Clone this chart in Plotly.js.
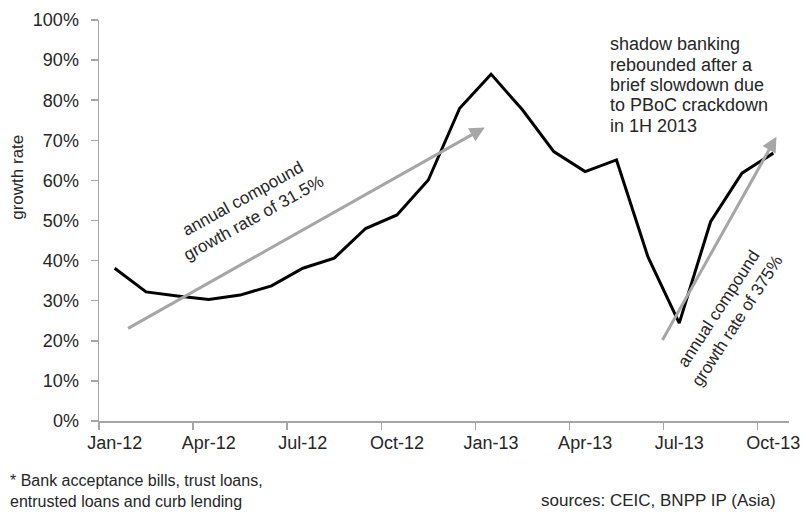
<!DOCTYPE html>
<html>
<head>
<meta charset="utf-8">
<script src="https://cdn.plot.ly/plotly-3.0.1.min.js"></script>
<style>html,body{margin:0;padding:0;background:#fff;}#chart{width:804px;height:514px;}</style>
</head>
<body>
<div id="chart"></div>
<script>
// Categories (monthly)
var months = ['Jan-12','Feb-12','Mar-12','Apr-12','May-12','Jun-12','Jul-12','Aug-12','Sep-12','Oct-12','Nov-12','Dec-12',
              'Jan-13','Feb-13','Mar-13','Apr-13','May-13','Jun-13','Jul-13','Aug-13','Sep-13','Oct-13'];
// Shadow banking growth rate (%)
var growthRate = [38.1, 32.2, 31.2, 30.3, 31.4, 33.7, 38.1, 40.6, 48.0, 51.4, 60.1, 78.0,
                  86.5, 77.6, 67.2, 62.2, 65.1, 41.0, 24.4, 49.7, 61.8, 66.8];
// Y tick values and labels
var yTicks = [0, 10, 20, 30, 40, 50, 60, 70, 80, 90, 100];
var yTickText = ['0%', '10%', '20%', '30%', '40%', '50%', '60%', '70%', '80%', '90%', '100%'];

// Trend arrows: [tailX(index), tailY(%), headX(index), headY(%)]
var arrow1 = [0.38, 22.9, 11.8, 73.2];
var arrow2 = [17.44, 19.8, 21.1, 70.9];

var arrowText1 = 'annual compound<br>growth rate of 31.5%';
var arrowText2 = 'annual compound<br>growth rate of 375%';
var noteLines = ['shadow banking', 'rebounded after a', 'brief slowdown due', 'to PBoC crackdown', 'in 1H 2013'];
var footText = '* Bank acceptance bills, trust loans,<br>entrusted loans and curb lending';
var sourceText = 'sources: CEIC, BNPP IP (Asia)';
var yTitle = 'growth rate';

var FONT = 'Liberation Sans, Arial, sans-serif';
var TXT = '#262626';
var AXC = '#a6a6a6';
var ARC = '#a6a6a6';

var trace = {
  x: months, y: growthRate, type: 'scatter', mode: 'lines',
  line: {color: '#000000', width: 3}, hoverinfo: 'skip', showlegend: false
};

var annotations = [];
function arrowAnn(a) {
  return {x: a[2], y: a[3], xref: 'x', yref: 'y', ax: a[0], ay: a[1], axref: 'x', ayref: 'y',
          text: '', showarrow: true, arrowhead: 2, arrowsize: 1, arrowwidth: 3, arrowcolor: ARC, standoff: 0, startstandoff: 0};
}
annotations.push(arrowAnn(arrow1));
annotations.push(arrowAnn(arrow2));
annotations.push({x: 0.216, y: 0.529, xref: 'paper', yref: 'paper', text: arrowText1, showarrow: false,
  textangle: -29, xanchor: 'center', yanchor: 'middle', align: 'center', font: {family: FONT, size: 17, color: TXT}});
annotations.push({x: 0.912, y: 0.265, xref: 'paper', yref: 'paper', text: arrowText2, showarrow: false,
  textangle: -57, xanchor: 'center', yanchor: 'middle', align: 'center', font: {family: FONT, size: 17, color: TXT}});
var noteY = [0.940, 0.889, 0.838, 0.787, 0.736];
noteLines.forEach(function(t, i) {
  annotations.push({x: 0.7377, y: noteY[i], xref: 'paper', yref: 'paper', text: t, showarrow: false,
    xanchor: 'left', yanchor: 'middle', align: 'left', font: {family: FONT, size: 18, color: TXT}});
});
annotations.push({x: -0.1319, y: -0.1746, xref: 'paper', yref: 'paper', text: footText, showarrow: false,
  xanchor: 'left', yanchor: 'middle', align: 'left', font: {family: FONT, size: 16, color: TXT}});
annotations.push({x: 0.984, y: -0.1995, xref: 'paper', yref: 'paper', text: sourceText, showarrow: false,
  xanchor: 'right', yanchor: 'middle', font: {family: FONT, size: 17, color: TXT}});
annotations.push({x: -0.118, y: 0.608, xref: 'paper', yref: 'paper', text: yTitle, showarrow: false,
  textangle: -90, xanchor: 'center', yanchor: 'middle', font: {family: FONT, size: 17, color: TXT}});

var layout = {
  width: 804, height: 514,
  margin: {l: 99, r: 15, t: 20, b: 93, pad: 0},
  paper_bgcolor: '#ffffff', plot_bgcolor: '#ffffff',
  showlegend: false,
  xaxis: {
    type: 'category', range: [-0.5, 21.5], tickmode: 'linear', tick0: 0, dtick: 3, tickangle: 0,
    tickson: 'boundaries', ticks: 'outside', ticklen: 7, tickwidth: 1.5, tickcolor: AXC,
    showline: true, linecolor: AXC, linewidth: 1.5, showgrid: false, zeroline: false,
    tickfont: {family: FONT, size: 18, color: TXT}, ticklabelstandoff: 5, fixedrange: true
  },
  yaxis: {
    range: [0, 100], tickmode: 'array', tickvals: yTicks, ticktext: yTickText,
    ticks: 'outside', ticklen: 7, tickwidth: 1.5, tickcolor: AXC,
    showline: true, linecolor: AXC, linewidth: 1.5, showgrid: false, zeroline: false,
    tickfont: {family: FONT, size: 18, color: TXT}, ticklabelstandoff: 8, fixedrange: true
  },
  annotations: annotations
};

Plotly.newPlot('chart', [trace], layout, {staticPlot: true, displayModeBar: false});
</script>
</body>
</html>
